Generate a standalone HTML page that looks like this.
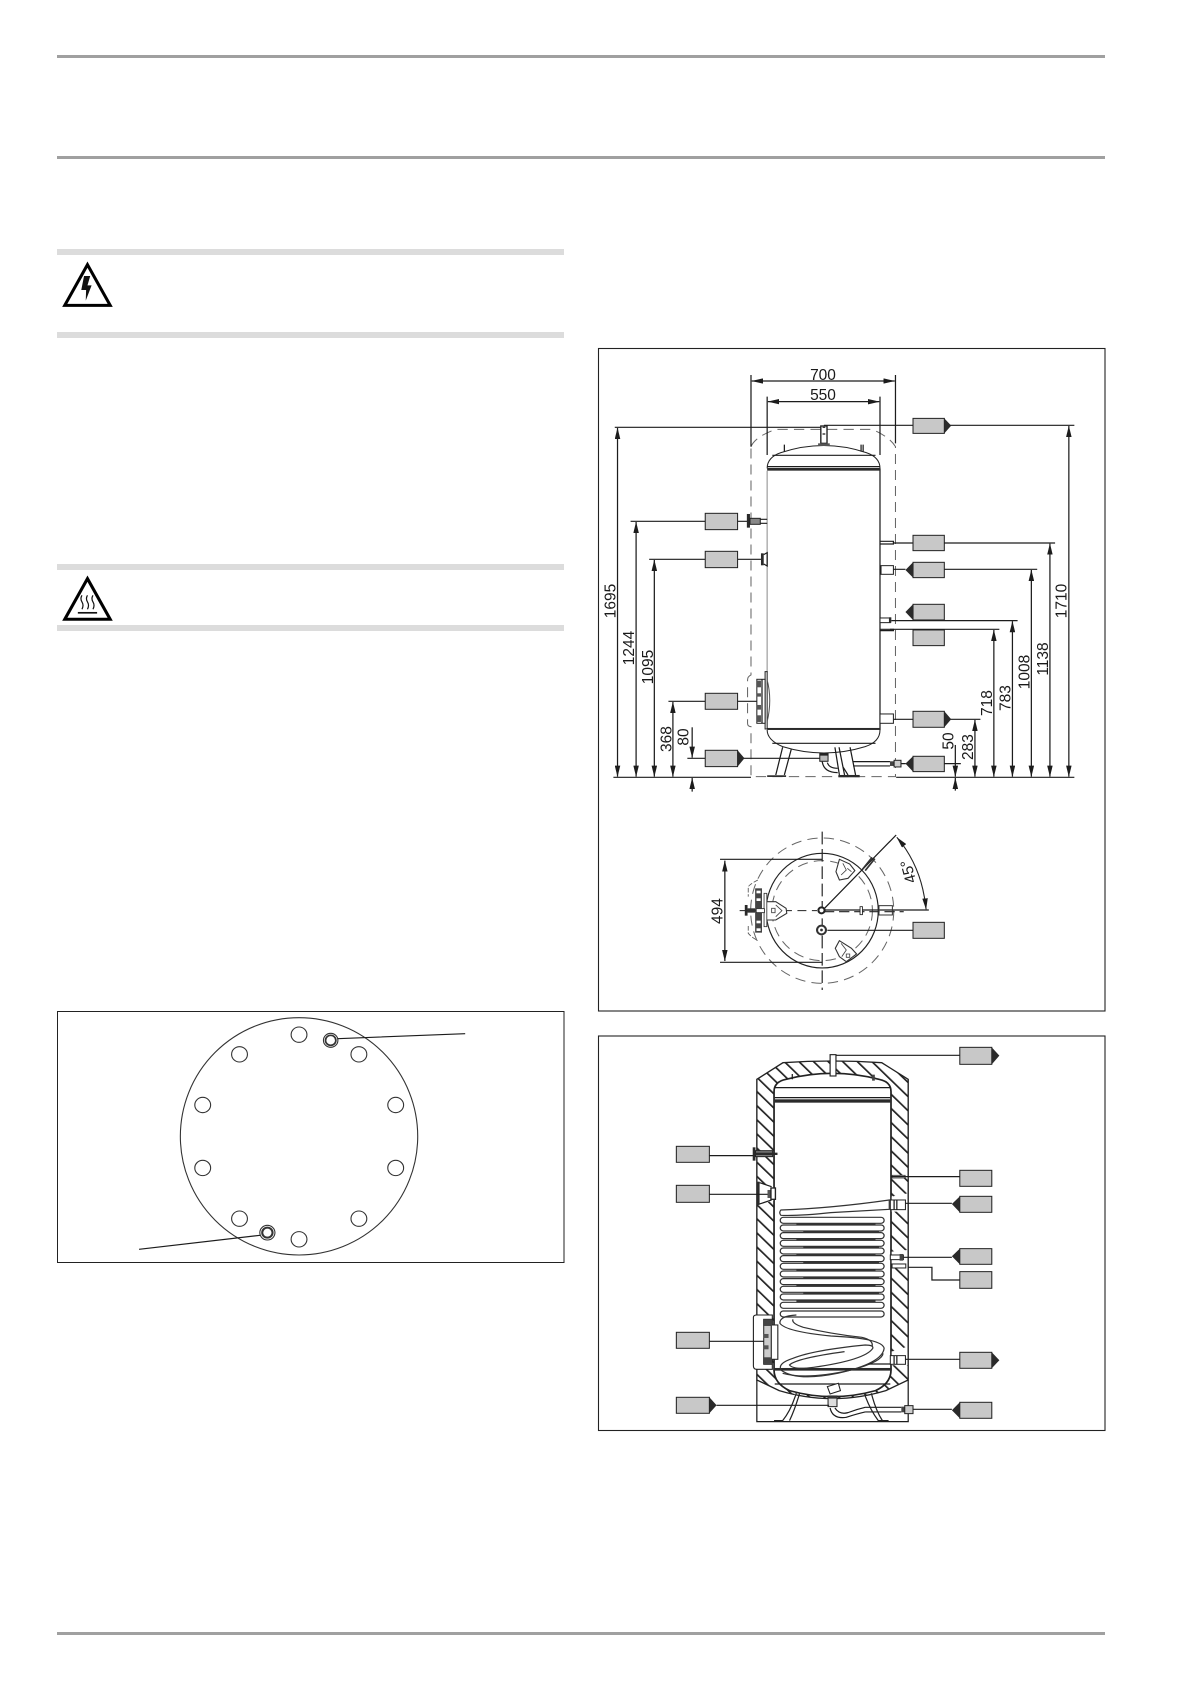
<!DOCTYPE html>
<html><head><meta charset="utf-8"><style>
html,body{margin:0;padding:0;background:#fff}
svg{display:block}
text{font-family:"Liberation Sans",sans-serif;fill:#1a1a1a;font-size:15.5px}
.l{fill:none;stroke:#1c1c1c;stroke-width:3.6}
.a{fill:none;stroke:#1c1c1c;stroke-width:3.6;marker-start:url(#ar);marker-end:url(#ar)}
.e{fill:none;stroke:#1c1c1c;stroke-width:3.6;marker-end:url(#ar)}
.b{fill:#c8c8c8;stroke:#222;stroke-width:3}
.k{fill:#2a2a2a;stroke:none}
.d{fill:none;stroke:#666;stroke-width:3;stroke-dasharray:30 18}
.w{fill:#fff;stroke:#222;stroke-width:3}
.c{fill:#fff;stroke:#333;stroke-width:3.2}
</style></head><body>
<svg width="1191" height="1685" viewBox="0 0 1191 1685" xmlns="http://www.w3.org/2000/svg">
<defs>
<marker id="ar" viewBox="0 0 34 16" refX="33" refY="8" markerWidth="34" markerHeight="16" markerUnits="userSpaceOnUse" orient="auto-start-reverse"><polygon points="0,0 34,8 0,16" fill="#1c1c1c"/></marker>
<pattern id="h" width="30" height="30" patternUnits="userSpaceOnUse" patternTransform="rotate(-45)"><rect width="30" height="30" fill="#fff"/><rect x="0" y="0" width="5" height="30" fill="#222"/></pattern>
</defs>
<rect width="1191" height="1685" fill="#fff"/>
<rect x="57" y="55" width="1048" height="3" fill="#a0a0a0"/>
<rect x="57" y="156" width="1048" height="3" fill="#a0a0a0"/>
<rect x="57" y="1632" width="1048" height="3" fill="#a0a0a0"/>
<rect x="57" y="249" width="507" height="6" fill="#dcdcdc"/>
<rect x="57" y="332" width="507" height="6" fill="#dcdcdc"/>
<rect x="57" y="564" width="507" height="6" fill="#dcdcdc"/>
<rect x="57" y="625" width="507" height="6" fill="#dcdcdc"/>

<g transform="matrix(.344 0 0 .3333 40 240)">
<polygon points="138,74 204,196 72,196" fill="#fff" stroke="#000" stroke-width="9" stroke-linejoin="miter"/>
<polygon points="128,108 146,108 138,136 150,136 133,182 134,150 120,150" fill="#111"/>
<polygon points="138,1016 204,1138 72,1138" fill="#fff" stroke="#000" stroke-width="9"/>
<rect x="110" y="1116" width="56" height="5" fill="#111"/>
<path d="M122 1066q-6 10 0 20t0 22M138 1066q-6 10 0 20t0 22M154 1066q-6 10 0 20t0 22" fill="none" stroke="#111" stroke-width="3.5"/>
</g>

<rect x="57.5" y="1011.5" width="506.5" height="251" fill="none" stroke="#222" stroke-width="1"/>
<g transform="matrix(.344 0 0 .3333 40 1000)">
<ellipse cx="753" cy="409" rx="345" ry="356" fill="none" stroke="#333" stroke-width="3.2"/>
<g fill="none" stroke="#333" stroke-width="3.2">
<circle cx="753" cy="104" r="23"/><circle cx="580" cy="163" r="23"/><circle cx="927" cy="163" r="23"/><circle cx="473" cy="315" r="23"/><circle cx="1034" cy="315" r="23"/><circle cx="473" cy="504" r="23"/><circle cx="1034" cy="504" r="23"/><circle cx="580" cy="656" r="23"/><circle cx="927" cy="656" r="23"/><circle cx="753" cy="718" r="23"/>
<circle cx="845" cy="121" r="21"/><circle cx="845" cy="121" r="15" stroke-width="5"/>
<circle cx="661" cy="698" r="22"/><circle cx="661" cy="698" r="15" stroke-width="6"/>
</g>
<path class="l" d="M865 116L1236 101M640 706L288 748"/>
</g>

<rect x="598.5" y="348.5" width="506.5" height="662.5" fill="none" stroke="#222" stroke-width="1.1"/>
<g transform="matrix(.344 0 0 .3333 590 340)">
<path class="d" d="M468 320Q480 290 540 268H820Q870 290 888 320V1310H468V1160Q458 1160 458 1150V1020Q458 1010 468 1005V320"/>
<path class="l" d="M468 105V320M888 105V310M515 170V345M843 170V345"/>
<line class="a" x1="470" y1="123" x2="886" y2="123"/>
<line class="a" x1="517" y1="185" x2="841" y2="185"/>
<path class="l" d="M72 262H680M680 256H938M1045 256H1408M68 1312H468M890 1312H1408M118 544H335M429 544H458M172 658H335M429 658H497M228 1084H335M429 1084H485M283 1255H335M445 1255H672M882 609H939M1030 609H1352M882 688H917M1030 688H1300M876 842H1243M872 868H1190M882 1138H939M1045 1138H1135M1030 1271H1078M918 1271H905"/>
<line class="a" x1="80" y1="264" x2="80" y2="1310"/>
<line class="a" x1="134" y1="546" x2="134" y2="1310"/>
<line class="a" x1="187" y1="660" x2="187" y2="1310"/>
<line class="a" x1="241" y1="1086" x2="241" y2="1310"/>
<line class="a" x1="1392" y1="258" x2="1392" y2="1310"/>
<line class="a" x1="1337" y1="611" x2="1337" y2="1310"/>
<line class="a" x1="1283" y1="690" x2="1283" y2="1310"/>
<line class="a" x1="1228" y1="844" x2="1228" y2="1310"/>
<line class="a" x1="1174" y1="870" x2="1174" y2="1310"/>
<line class="a" x1="1119" y1="1140" x2="1119" y2="1310"/>
<line class="e" x1="297" y1="1162" x2="297" y2="1253"/>
<line class="e" x1="297" y1="1355" x2="297" y2="1314"/>
<line class="e" x1="1062" y1="1215" x2="1062" y2="1310"/>
<line class="e" x1="1062" y1="1352" x2="1062" y2="1314"/>

<path d="M515 385Q515 352 555 338Q680 295 803 338Q843 352 843 385" fill="#fff" stroke="#222" stroke-width="3"/>
<path class="l" d="M530 346H830M515 380H843M843 385V1170"/>
<rect x="515" y="384" width="328" height="8" class="k"/>
<rect x="513" y="392" width="4" height="605" fill="#aaa"/>
<rect x="515" y="1164" width="328" height="6" class="k"/>
<path d="M515 1170Q515 1200 560 1220Q680 1258 800 1220Q843 1205 843 1170" fill="#fff" stroke="#222" stroke-width="3"/>
<path class="l" d="M530 1210H830"/>
<rect x="671" y="258" width="18" height="52" fill="#fff" stroke="#222" stroke-width="4"/>
<rect x="663" y="310" width="34" height="8" fill="#555"/>
<path class="l" d="M565 314V335M788 314V335M794 314V335M676 262H684M676 282H684"/>
<rect x="456" y="522" width="9" height="41" class="k"/>
<rect x="465" y="535" width="30" height="18" fill="#888" stroke="#222" stroke-width="3"/>
<path class="l" d="M495 538H515M495 550H515"/>
<rect x="497" y="640" width="8" height="36" class="k"/><path class="l" d="M505 644L515 638V678L505 672"/>
<rect x="509" y="995" width="6" height="172" fill="#fff" stroke="#222" stroke-width="3"/>
<path d="M515 1020Q530 1080 515 1145" fill="none" stroke="#555" stroke-width="3"/>
<rect x="485" y="1018" width="24" height="132" fill="#fff" stroke="#222" stroke-width="3"/>
<path class="l" d="M500 1018V1150"/>
<rect x="485" y="1022" width="12" height="20" fill="#555"/><rect x="485" y="1060" width="12" height="10" fill="#555"/><rect x="485" y="1095" width="12" height="14" fill="#555"/><rect x="485" y="1126" width="12" height="20" fill="#555"/>
<path class="l" d="M560 1222L540 1305M585 1228L565 1305"/>
<rect x="515" y="1306" width="55" height="5" class="k"/>
<path class="l" d="M712 1222L725 1305M756 1222L772 1305M724 1222L740 1305M735 1280L750 1305"/>
<rect x="722" y="1305" width="62" height="7" class="k"/>
<rect x="668" y="1240" width="24" height="24" fill="#bbb" stroke="#222" stroke-width="3"/>
<rect x="668" y="1240" width="24" height="7" fill="#222"/>
<path class="l" d="M675 1265Q680 1298 720 1298M690 1268Q695 1285 720 1285"/>
<path class="l" d="M765 1265H872M765 1278H872"/>
<rect x="872" y="1264" width="12" height="14" fill="#444"/><rect x="884" y="1261" width="20" height="20" fill="#ccc" stroke="#222" stroke-width="3"/>
<path class="l" d="M843 604H882V612H843M843 868H882V872H843"/>
<rect x="846" y="677" width="36" height="26" class="w"/>
<rect x="843" y="834" width="30" height="14" class="w"/><rect x="869" y="832" width="7" height="16" class="k"/>
<rect x="843" y="1122" width="39" height="28" class="w"/>

<polygon points="939,235 1030,235 1030,280 939,280" class="b"/><polygon points="1030,235 1050,257 1030,280" class="k"/>
<rect x="335" y="520" width="94" height="49" class="b"/><rect x="335" y="634" width="94" height="49" class="b"/><rect x="335" y="1060" width="94" height="48" class="b"/>
<rect x="335" y="1231" width="94" height="49" class="b"/><polygon points="429,1231 449,1255 429,1280" class="k"/>
<rect x="939" y="586" width="91" height="46" class="b"/>
<rect x="939" y="667" width="91" height="46" class="b"/><polygon points="939,667 917,690 939,713" class="k"/>
<rect x="939" y="793" width="91" height="47" class="b"/><polygon points="939,793 917,816 939,840" class="k"/>
<rect x="939" y="870" width="91" height="47" class="b"/>
<rect x="939" y="1114" width="91" height="48" class="b"/><polygon points="1030,1114 1050,1138 1030,1162" class="k"/>
<rect x="939" y="1249" width="91" height="46" class="b"/><polygon points="939,1249 917,1271 939,1295" class="k"/>
</g>
<text x="823" y="380" text-anchor="middle">700</text>
<text x="823" y="400" text-anchor="middle">550</text>
<text transform="translate(615.5 601) rotate(-90)" text-anchor="middle">1695</text>
<text transform="translate(634 648) rotate(-90)" text-anchor="middle">1244</text>
<text transform="translate(653 667) rotate(-90)" text-anchor="middle">1095</text>
<text transform="translate(671.5 739) rotate(-90)" text-anchor="middle">368</text>
<text transform="translate(688.7 737) rotate(-90)" text-anchor="middle">80</text>
<text transform="translate(992 703) rotate(-90)" text-anchor="middle">718</text>
<text transform="translate(1010.7 698) rotate(-90)" text-anchor="middle">783</text>
<text transform="translate(1029.6 672) rotate(-90)" text-anchor="middle">1008</text>
<text transform="translate(1048 659) rotate(-90)" text-anchor="middle">1138</text>
<text transform="translate(1066.4 601) rotate(-90)" text-anchor="middle">1710</text>
<text transform="translate(953.6 741) rotate(-90)" text-anchor="middle">50</text>
<text transform="translate(973.2 747) rotate(-90)" text-anchor="middle">283</text>

<g transform="matrix(.344 0 0 .3333 590 800)">
<ellipse cx="675" cy="332" rx="208" ry="218" class="d" stroke-dasharray="34 40"/>
<ellipse cx="675" cy="332" rx="146" ry="150" class="d" stroke-dasharray="14 14" stroke-width="2.6"/>
<ellipse cx="675" cy="332" rx="163" ry="172" fill="none" stroke="#222" stroke-width="3.4"/>
<path d="M675 95V570" fill="none" stroke="#222" stroke-width="3.4" stroke-dasharray="38 14"/>
<path d="M435 332H660" fill="none" stroke="#222" stroke-width="3" stroke-dasharray="26 16"/>
<path d="M680 335H912" fill="none" stroke="#222" stroke-width="3.4" stroke-dasharray="30 14"/>
<path class="l" d="M675 330H985M675 332L890 105M378 178H675M378 487H675M690 391H939"/>
<line class="a" x1="392" y1="182" x2="392" y2="483"/>
<path d="M892 112Q965 200 977 328" fill="none" stroke="#222" stroke-width="3.2" marker-start="url(#ar)" marker-end="url(#ar)"/>
<path d="M792 208L820 172M800 212L828 176" stroke="#333" stroke-width="5" fill="none"/>
<circle cx="673" cy="331" r="9" fill="#fff" stroke="#222" stroke-width="6"/>
<circle cx="673" cy="390" r="13" fill="#fff" stroke="#333" stroke-width="6"/><circle cx="673" cy="390" r="4" fill="#333"/>
<rect x="840" y="317" width="39" height="28" fill="none" stroke="#333" stroke-width="3"/>
<rect x="785" y="320" width="7" height="24" fill="#fff" stroke="#222" stroke-width="2.5"/>
<path class="c" d="M725 178L755 192L770 212L750 235L725 240L715 215Z"/>
<path fill="none" stroke="#444" stroke-width="2.5" d="M735 190L745 210L730 225M748 205L760 215"/>
<path class="c" d="M725 422L760 445L775 462L745 485L725 470L713 445Z"/>
<path fill="none" stroke="#444" stroke-width="2.5" d="M730 430L745 450L732 470M745 462H755V472H745Z"/>
<path class="c" d="M512 305L540 305L570 325L572 340L540 360L512 360Z"/>
<path fill="none" stroke="#444" stroke-width="2.5" d="M540 315L558 332L540 350M528 325H538V338H528Z"/>
<rect x="506" y="280" width="8" height="100" fill="#fff" stroke="#333" stroke-width="2.5"/>
<rect x="480" y="265" width="20" height="60" fill="#444"/><rect x="480" y="338" width="20" height="60" fill="#444"/>
<rect x="484" y="272" width="12" height="8" fill="#fff"/><rect x="484" y="295" width="12" height="8" fill="#fff"/><rect x="484" y="362" width="12" height="8" fill="#fff"/><rect x="484" y="385" width="12" height="8" fill="#fff"/>
<rect x="483" y="326" width="24" height="12" fill="#fff" stroke="#222" stroke-width="2.5"/>
<rect x="450" y="315" width="8" height="32" class="k"/><rect x="458" y="325" width="24" height="13" fill="#333"/>
<path d="M488 240Q460 255 460 262V290M460 378V400Q470 412 488 422" fill="none" stroke="#555" stroke-width="2.5" stroke-dasharray="14 5"/>
<rect x="939" y="367" width="91" height="48" class="b"/>
</g>
<text transform="translate(722.4 911) rotate(-90)" text-anchor="middle">494</text>
<text transform="translate(913.3 870.3) rotate(-105)" text-anchor="middle">45°</text>

<rect x="598.5" y="1036" width="506.5" height="394.5" fill="none" stroke="#222" stroke-width="1.1"/>
<g transform="matrix(.344 0 0 .3333 590 1030)">
<path d="M485 148L561 98Q705 88 848 98L925 148V1050L860 1082Q705 1130 550 1082L485 1050Z" fill="url(#h)" stroke="#222" stroke-width="4"/>
<path class="l" d="M485 1050V1175H925V1050"/>
<path d="M535 205V185Q535 155 570 148Q705 112 840 148Q875 155 875 185V1020Q875 1060 830 1082Q705 1118 580 1082Q535 1060 535 1020Z" fill="#fff" stroke="#222" stroke-width="5"/>
<path class="l" d="M537 173H873M537 203H873"/>
<rect x="537" y="208" width="336" height="10" class="k"/>
<rect x="533" y="1014" width="344" height="8" class="k"/>
<path class="l" d="M537 1062H873"/>
<rect x="698" y="74" width="17" height="64" fill="#fff" stroke="#222" stroke-width="3.4"/>
<path class="l" d="M588 132V148"/>
<rect x="820" y="134" width="8" height="18" fill="#444"/>
<rect x="878" y="436" width="38" height="8" fill="#fff" stroke="#333" stroke-width="2.5"/>
<polygon points="877,500 923,490 923,545 877,545" fill="#fff"/>
<polygon points="877,665 923,660 923,715 877,715" fill="#fff"/>
<polygon points="877,965 923,950 923,1006 877,1006" fill="#fff"/>
<polygon points="487,455 533,472 533,512 487,525" fill="#fff"/>
<rect x="484" y="455" width="9" height="70" class="k"/>
<path class="l" d="M493 458L528 470M493 522L528 510"/>
<rect x="516" y="480" width="10" height="24" fill="#555"/><rect x="526" y="474" width="13" height="34" fill="#fff" stroke="#222" stroke-width="4"/>
<rect x="473" y="352" width="8" height="40" class="k"/>
<rect x="481" y="362" width="50" height="18" fill="#777" stroke="#222" stroke-width="3"/>
<rect x="481" y="368" width="64" height="7" class="k"/>

<g fill="#fff" stroke="#333" stroke-width="3.6">
<path d="M555 540Q700 535 870 510V538L700 548Q610 558 555 556Q548 548 555 540Z"/>
<rect x="553" y="562" width="302" height="18" rx="9"/>
<rect x="553" y="585" width="302" height="18" rx="9"/>
<rect x="553" y="608" width="302" height="18" rx="9"/>
<rect x="553" y="631" width="302" height="18" rx="9"/>
<rect x="553" y="654" width="302" height="18" rx="9"/>
<rect x="553" y="677" width="302" height="18" rx="9"/>
<rect x="553" y="700" width="302" height="18" rx="9"/>
<rect x="553" y="723" width="302" height="18" rx="9"/>
<rect x="553" y="746" width="302" height="18" rx="9"/>
<rect x="553" y="769" width="302" height="18" rx="9"/>
<rect x="553" y="792" width="302" height="18" rx="9"/>
<rect x="553" y="817" width="302" height="18" rx="9"/>
<rect x="553" y="843" width="302" height="18" rx="9"/>
</g>
<g fill="#333">
<rect x="600" y="580" width="230" height="6"/><rect x="620" y="603" width="220" height="6"/><rect x="600" y="626" width="230" height="6"/><rect x="620" y="649" width="220" height="6"/><rect x="600" y="672" width="230" height="6"/><rect x="620" y="695" width="220" height="6"/><rect x="600" y="718" width="230" height="6"/><rect x="620" y="741" width="220" height="6"/><rect x="600" y="764" width="230" height="6"/><rect x="620" y="787" width="220" height="6"/><rect x="600" y="810" width="230" height="6"/>
</g>
<path d="M600 855Q550 858 552 880Q570 905 700 918Q850 925 855 955Q850 1000 720 1030Q600 1055 555 1020Q545 1000 590 985Q650 960 800 945Q825 945 822 955Q800 990 650 1012Q590 1020 580 1005Q600 985 740 965" fill="none" stroke="#333" stroke-width="3.6"/>
<path d="M590 868Q585 880 620 892Q700 912 790 922Q825 930 820 950M560 1030Q630 1050 760 1020Q850 995 852 970" fill="none" stroke="#333" stroke-width="3.6"/>
<path class="l" d="M810 1002H875"/>
<rect x="873" y="510" width="44" height="29" class="w"/><path class="l" d="M884 510V539M892 510V539"/>
<rect x="873" y="675" width="38" height="14" class="w" stroke-width="4"/><rect x="900" y="672" width="10" height="20" fill="#444"/>
<rect x="878" y="702" width="40" height="12" class="w"/>
<rect x="873" y="977" width="44" height="26" class="w"/><path class="l" d="M884 977V1003M892 977V1003"/>
<path d="M475 862Q475 855 485 855H530V1018H485Q475 1018 475 1008Z" fill="#fff" stroke="#222" stroke-width="3.2"/>
<rect x="505" y="868" width="24" height="135" fill="#ccc" stroke="#222" stroke-width="3"/>
<rect x="527" y="885" width="19" height="103" fill="#fff" stroke="#222" stroke-width="3.2"/>
<rect x="503" y="868" width="26" height="20" fill="#444"/><rect x="503" y="982" width="26" height="20" fill="#444"/><rect x="505" y="912" width="14" height="12" fill="#555"/><rect x="505" y="946" width="14" height="12" fill="#555"/>
<path d="M690 1070L722 1060L728 1082L698 1092Z" fill="#fff" stroke="#222" stroke-width="3.2"/>
<path d="M600 1088Q585 1140 560 1172H535M610 1088Q595 1140 580 1172" fill="#fff" stroke="#222" stroke-width="3.6"/>
<path d="M800 1098Q815 1140 838 1172H868M818 1090Q830 1140 850 1172" fill="#fff" stroke="#222" stroke-width="3.6"/>
<rect x="692" y="1098" width="26" height="32" fill="#ddd" stroke="#222" stroke-width="3"/><rect x="692" y="1098" width="26" height="8" fill="#333"/>
<path class="l" d="M698 1134Q705 1168 745 1162Q775 1152 800 1146M712 1134Q725 1155 750 1148Q775 1138 800 1132M800 1132H905M800 1146H905"/>
<rect x="905" y="1130" width="10" height="17" fill="#444"/><rect x="915" y="1127" width="24" height="24" fill="#ccc" stroke="#222" stroke-width="3"/>
<path class="l" d="M715 76H1075M875 440H1075M917 520H1052M912 682H1052M925 712H994V750H1075M917 988H1075M940 1138H1052M347 377H475M347 493H516M347 934H505M368 1126H695"/>
<rect x="1075" y="52" width="93" height="51" class="b"/><polygon points="1168,52 1190,77 1168,103" class="k"/>
<rect x="1075" y="421" width="93" height="48" class="b"/>
<rect x="1075" y="499" width="93" height="48" class="b"/><polygon points="1075,499 1052,522 1075,547" class="k"/>
<rect x="1075" y="656" width="93" height="47" class="b"/><polygon points="1075,656 1052,679 1075,703" class="k"/>
<rect x="1075" y="725" width="93" height="50" class="b"/>
<rect x="1075" y="967" width="93" height="48" class="b"/><polygon points="1168,967 1190,991 1168,1015" class="k"/>
<rect x="1075" y="1117" width="93" height="48" class="b"/><polygon points="1075,1117 1052,1141 1075,1165" class="k"/>
<rect x="251" y="349" width="96" height="48" class="b"/>
<rect x="251" y="466" width="96" height="51" class="b"/>
<rect x="251" y="907" width="96" height="48" class="b"/>
<rect x="251" y="1102" width="96" height="48" class="b"/><polygon points="347,1102 368,1126 347,1150" class="k"/>
</g>
</svg>
</body></html>
